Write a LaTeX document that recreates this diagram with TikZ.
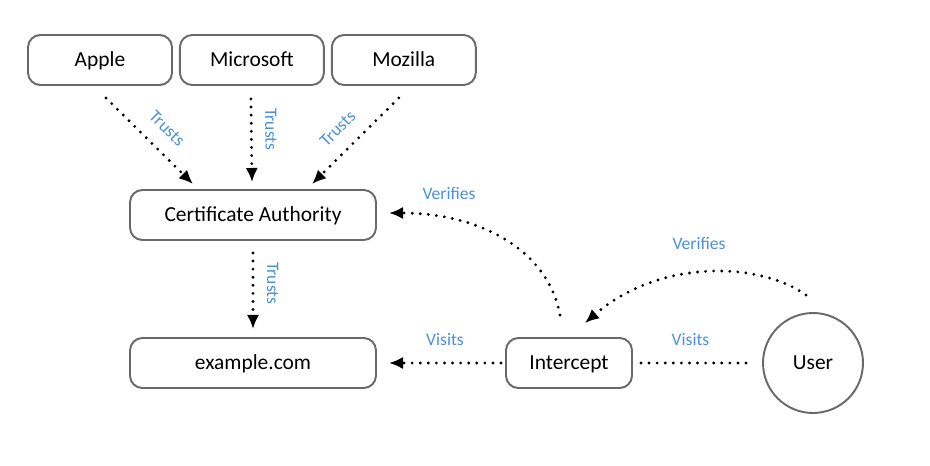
\documentclass[tikz,border=0pt]{standalone}
\usepackage{fontspec}
\setmainfont{Carlito}
\usepackage{tikz}
\usetikzlibrary{positioning}
\usetikzlibrary{arrows.meta}
\definecolor{lblblue}{RGB}{74,144,226}
\definecolor{boxgray}{RGB}{105,105,105}

\tikzset{
  box/.style={draw=boxgray, line width=1.1pt, rounded corners=7pt, minimum width=2.88cm, minimum height=1cm, text height=0.8em, text depth=0.1em, font=\fontsize{12.2}{14}\selectfont},
  dotline/.style={line width=1.8pt, line cap=round, dash pattern=on 0pt off 4.6pt},
  dotarrow/.style={dotline, -{Latex[length=8pt,width=7pt]}},
  lbl/.style={text=lblblue, font=\fontsize{10}{12}\selectfont, inner sep=1pt},
}

\begin{document}
\begin{tikzpicture}[x=0.02cm, y=-0.02cm]
     \useasboundingbox (0,0) rectangle (930,466);
     % the three browser vendors
     \node[box] (apple) at (100,60) {Apple};
     \node[box, right=0.12cm of apple] (microsoft) {Microsoft};
     \node[box, right=0.12cm of microsoft] (mozilla) {Mozilla};
     \node[box, minimum width=4.92cm] (ca) at (253,215) {Certificate Authority};
     \node[box, minimum width=4.92cm] (example) at (253,363) {example.com};
     \node[box, minimum width=2.52cm] (intercept) at (569,363) {Intercept};
     \node[box, circle, minimum size=2cm] (user) at (813,363) {User};
     % trust chain
     \draw[dotarrow] ([shift={(6,12)}]apple.south) -- ([shift={(-60,-5)}]ca.north) node[lbl, pos=.53, sloped, above=7pt] {Trusts};
     \draw[dotarrow] ([shift={(-1,13)}]microsoft.south) -- ([shift={(-1,-7)}]ca.north) node[lbl, pos=.37, sloped, allow upside down, above=6pt] {Trusts};
     \draw[dotarrow] ([shift={(-5,12)}]mozilla.south) -- ([shift={(59,-5)}]ca.north) node[lbl, pos=.53, sloped, above=7pt] {Trusts};
     \draw[dotarrow] ([shift={(0,12)}]ca.south) -- ([shift={(0,-8)}]example.north) node[lbl, pos=.4, sloped, allow upside down, above=6pt] {Trusts};
     % visits
     \draw[dotarrow] ([shift={(-4,0)}]intercept.west) -- ([shift={(12,0)}]example.east) node[lbl, midway, above=8pt] {Visits};
     \draw[dotline] ([shift={(-16,0)}]user.west) -- ([shift={(2,0)}]intercept.east) node[lbl, midway, above=8pt] {Visits};
     % verifies
     \draw[dotarrow] ([shift={(-9,-22)}]intercept.north) .. controls (548,250) and (480,213) .. ([shift={(12,-2)}]ca.east);
     \node[lbl] at (449,193) {Verifies};
     \draw[dotarrow] ([shift={(-7,-17)}]user.north) .. controls (760,262) and (660,258) .. ([shift={(16,-14)}]intercept.north);
     \node[lbl] at (699,243) {Verifies};
\end{tikzpicture}
\end{document}
